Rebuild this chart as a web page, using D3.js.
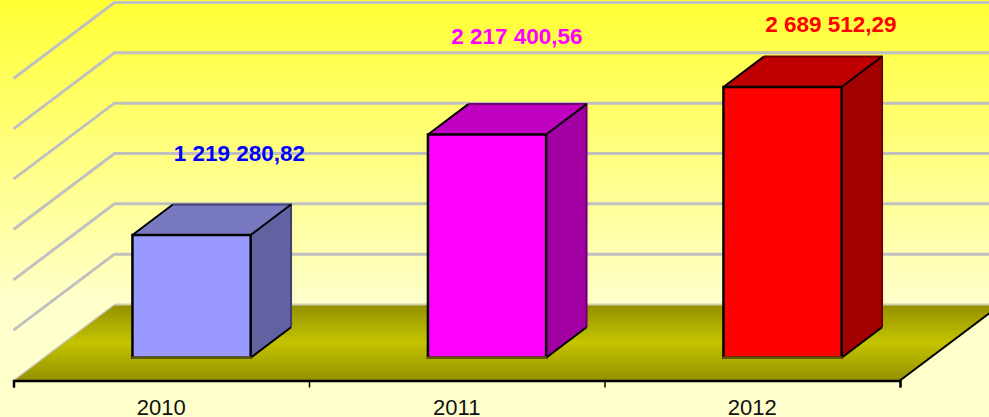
<!DOCTYPE html>
<html lang="en">
<head>
    <meta charset="UTF-8">
    <title>Chart 2010-2012</title>
    <script src="https://d3js.org/d3.v7.min.js"></script>
    <style>
        html, body { margin: 0; padding: 0; background: #ffffcc; overflow: hidden; }
        svg { display: block; }
        text { font-family: "Liberation Sans", Arial, sans-serif; }
    </style>
</head>
<body>
    <div id="chart"></div>
    <script>
        // values
        const years = ['2010', '2011', '2012'];
        const values = [1219280.82, 2217400.56, 2689512.29];
        const valueLabels = ['1 219 280,82', '2 217 400,56', '2 689 512,29'];
        const gridValues = [0, 500000, 1000000, 1500000, 2000000, 2500000, 3000000];
        const faceColors = ['#9999ff', '#ff00ff', '#ff0000'];
        const topColors = ['#7979c2', '#c000c0', '#c00000'];
        const sideColors = ['#6262a3', '#a300a3', '#a30000'];
        const backEdgeColors = ['#404070', '#700070', '#700000'];
        const labelColors = ['#0000ff', '#ff00ff', '#ff0000'];

        const width = 989;
        const height = 417;

        // front floor line and the depth vector of the 3D box
        const floorY = 380.5;
        const depthX = 101;
        const depthY = -76;

        const x = d3.scaleBand().domain(years).range([13.5, 900]);
        const y = d3.scaleLinear().domain([0, 3000000]).range([0, 302]);

        const project = (px, v, depth) => [px + depth * depthX, floorY - y(v) + depth * depthY];
        const pts = list => list.map(p => p.join(',')).join(' ');

        const svg = d3.select('#chart').append('svg')
            .attr('width', width)
            .attr('height', height);

        const defs = svg.append('defs');

        const bg = defs.append('linearGradient')
            .attr('id', 'bgGrad')
            .attr('x1', 0).attr('y1', 0).attr('x2', 0).attr('y2', 1);
        bg.append('stop').attr('offset', '0%').attr('stop-color', '#ffff33');
        bg.append('stop').attr('offset', '100%').attr('stop-color', '#ffffcc');

        const floorGrad = defs.append('linearGradient')
            .attr('id', 'floorGrad')
            .attr('x1', 0).attr('y1', 0).attr('x2', 0).attr('y2', 1);
        floorGrad.append('stop').attr('offset', '0%').attr('stop-color', '#949000');
        floorGrad.append('stop').attr('offset', '50%').attr('stop-color', '#c4c400');
        floorGrad.append('stop').attr('offset', '100%').attr('stop-color', '#949000');

        // background
        svg.append('rect')
            .attr('width', width)
            .attr('height', 305)
            .attr('fill', 'url(#bgGrad)');

        const x0 = x.range()[0];
        const x1 = x.range()[1];

        // floor
        svg.append('polygon')
            .attr('points', pts([
                project(x0, 0, 0), project(x0, 0, 1),
                project(x1, 0, 1), project(x1, 0, 0)
            ]))
            .attr('fill', 'url(#floorGrad)');

        // grid lines on the left and back walls
        gridValues.forEach(v => {
            const a = project(x0, v, 0);
            const b = project(x0, v, 1);
            const c = project(x1, v, 1);
            svg.append('polyline')
                .attr('points', pts(v === 0 ? [b, c] : [a, b, c]))
                .attr('fill', 'none')
                .attr('stroke', v === 0 ? '#cfcfb0' : '#c0c0c0')
                .attr('stroke-width', v === 0 ? 2 : 3);
        });

        // floor edges
        svg.append('line')
            .attr('x1', project(x0, 0, 0)[0]).attr('y1', project(x0, 0, 0)[1])
            .attr('x2', project(x0, 0, 1)[0]).attr('y2', project(x0, 0, 1)[1])
            .attr('stroke', '#c8c8c0')
            .attr('stroke-width', 1.5);
        svg.append('line')
            .attr('x1', project(x1, 0, 0)[0]).attr('y1', project(x1, 0, 0)[1])
            .attr('x2', project(x1, 0, 1)[0]).attr('y2', project(x1, 0, 1)[1])
            .attr('stroke', '#000')
            .attr('stroke-width', 2);

        // bars
        const barWidth = x.bandwidth() * 0.4;
        const frontDepth = 0.3;
        const backDepth = 0.7;

        years.forEach((year, i) => {
            const left = x(year) + (x.bandwidth() - barWidth) / 2;
            const right = left + barWidth;
            const v = values[i];

            const fl0 = project(left, 0, frontDepth);
            const fr0 = project(right, 0, frontDepth);
            const fl1 = project(left, v, frontDepth);
            const fr1 = project(right, v, frontDepth);
            const br0 = project(right, 0, backDepth);
            const br1 = project(right, v, backDepth);
            const bl1 = project(left, v, backDepth);

            svg.append('polygon')
                .attr('points', pts([fr0, fr1, br1, br0]))
                .attr('fill', sideColors[i]);
            svg.append('polygon')
                .attr('points', pts([fl1, bl1, br1, fr1]))
                .attr('fill', topColors[i]);

            // back edges are softer than the front ones
            svg.append('polyline')
                .attr('points', pts([bl1, br1, br0]))
                .attr('fill', 'none')
                .attr('stroke', backEdgeColors[i])
                .attr('stroke-width', 2);
            [[fl1, bl1], [fr1, br1], [fr0, br0]].forEach(e => {
                svg.append('line')
                    .attr('x1', e[0][0]).attr('y1', e[0][1])
                    .attr('x2', e[1][0]).attr('y2', e[1][1])
                    .attr('stroke', '#000')
                    .attr('stroke-width', 2);
            });

            svg.append('polygon')
                .attr('points', pts([fl0, fl1, fr1, fr0]))
                .attr('fill', faceColors[i])
                .attr('stroke', '#000')
                .attr('stroke-width', 2.5);
            svg.append('line')
                .attr('x1', fl0[0] - 1).attr('y1', fl0[1])
                .attr('x2', fr0[0] + 1).attr('y2', fr0[1])
                .attr('stroke', '#5e5a00')
                .attr('stroke-width', 2.5);
        });

        // value labels sit at their own offsets above the bars, not evenly
        const labelShiftX = [7.5, -10.5, 8];
        const labelShiftY = [52, 68, 33];
        years.forEach((year, i) => {
            const top = project(x(year) + x.bandwidth() / 2, values[i], backDepth);
            svg.append('text')
                .attr('x', top[0] + labelShiftX[i])
                .attr('y', top[1] - labelShiftY[i] + 8)
                .attr('text-anchor', 'middle')
                .attr('font-size', 22.5)
                .attr('font-weight', 'bold')
                .attr('fill', labelColors[i])
                .text(valueLabels[i]);
        });

        // x axis: ticks on the band edges, labels in the middle of each band
        const edges = d3.scaleLinear().domain([0, years.length]).range([x0, x1]);
        const tickAxis = svg.append('g')
            .attr('transform', `translate(0, ${floorY})`)
            .call(d3.axisBottom(edges).tickValues(d3.range(years.length + 1)).tickSize(7).tickFormat(''));
        tickAxis.selectAll('path').attr('stroke', '#000').attr('stroke-width', 2.5);
        tickAxis.selectAll('line').attr('stroke', '#000').attr('stroke-width', 1.5);

        const labelAxis = svg.append('g')
            .attr('transform', `translate(0, ${floorY})`)
            .call(d3.axisBottom(x).tickSize(0).tickPadding(19));
        labelAxis.select('path').remove();
        labelAxis.selectAll('text')
            .attr('font-family', '"Liberation Sans", Arial, sans-serif')
            .attr('font-size', 22)
            .attr('fill', '#111');
    </script>
</body>
</html>
